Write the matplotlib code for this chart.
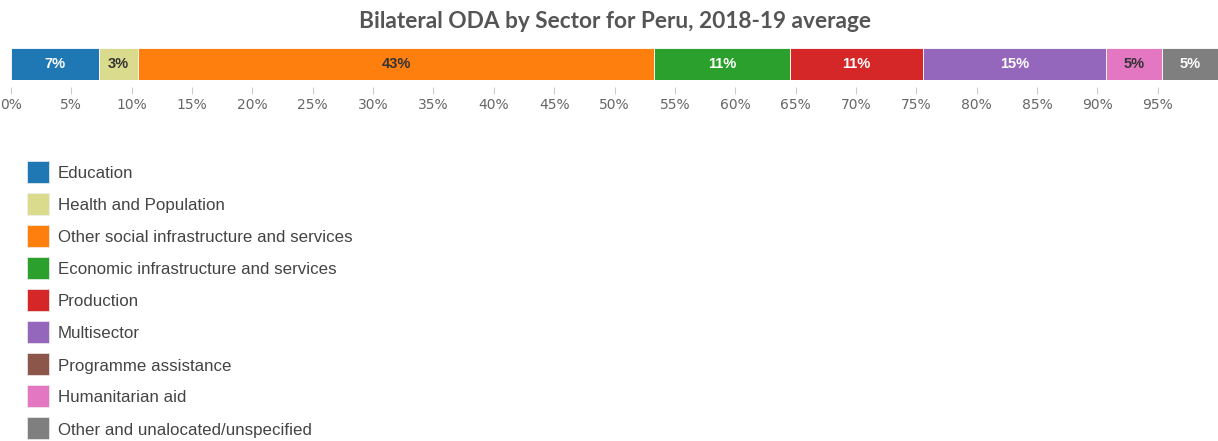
import matplotlib.pyplot as plt
from matplotlib.patches import Rectangle

sectors = ['Education', 'Health and Population', 'Other social infrastructure and services',
           'Economic infrastructure and services', 'Production', 'Multisector',
           'Programme assistance', 'Humanitarian aid', 'Other and unalocated/unspecified']
shares = [7.3, 3.2, 42.8, 11.2, 11.1, 15.1, 0.0, 4.7, 4.6]
colors = ['#1f77b4', '#dbdb8d', '#ff7f0e', '#2ca02c', '#d62728', '#9467bd',
          '#8c564b', '#e377c2', '#7f7f7f']
text_colors = ['white', '#333333', '#333333', 'white', 'white', 'white',
               'white', '#333333', 'white']
ticks = list(range(0, 100, 5))

W, H = 1218, 441
fig = plt.figure(figsize=(W / 100, H / 100), dpi=100)
ax = fig.add_axes([11 / W, 1 - 80 / H, 1 - 11 / W, 32 / H])

left = 0
for name, val, c, tc in zip(sectors, shares, colors, text_colors):
    ax.barh(0, val, left=left, height=1, color=c, edgecolor='white', linewidth=0.6)
    if val > 0:
        ax.text(left + val / 2, 0, f'{round(val)}%', ha='center', va='center',
                color=tc, fontsize=10.5, fontweight='semibold', family='Liberation Sans')
    left += val

ax.set_xlim(0, 100)
ax.set_ylim(-0.5, 0.5)
ax.set_yticks([])
ax.set_xticks(ticks)
ax.set_xticklabels([f'{t}%' for t in ticks], fontsize=10.5, family='Liberation Sans')
ax.get_xticklabels()[0].set_ha('left')
for s in ['top', 'right', 'left']:
    ax.spines[s].set_visible(False)
ax.spines['bottom'].set_position(('outward', 5))
ax.spines['bottom'].set_visible(False)
ax.tick_params(axis='x', length=5, color='#cccccc', pad=3, labelcolor='#666666')

fig.text(615 / W, 1 - 21 / H, 'Bilateral ODA by Sector for Peru, 2018-19 average',
         ha='center', va='center', fontsize=16.3, fontweight='bold', color='#555555',
         family='Lato')

# legend drawn by hand so the spacing matches
for i, (name, c) in enumerate(zip(sectors, colors)):
    top = 161 + 32 * i
    fig.patches.append(Rectangle((27 / W, 1 - (top + 22) / H), 22 / W, 22 / H,
                                 facecolor=c, edgecolor='#eeeeee', linewidth=0.5,
                                 transform=fig.transFigure, figure=fig))
    fig.text(58 / W, 1 - (top + 13) / H, name, ha='left', va='center',
             fontsize=12.2, color='#444444', family='Liberation Sans')

fig.savefig('out.png', dpi=100)
